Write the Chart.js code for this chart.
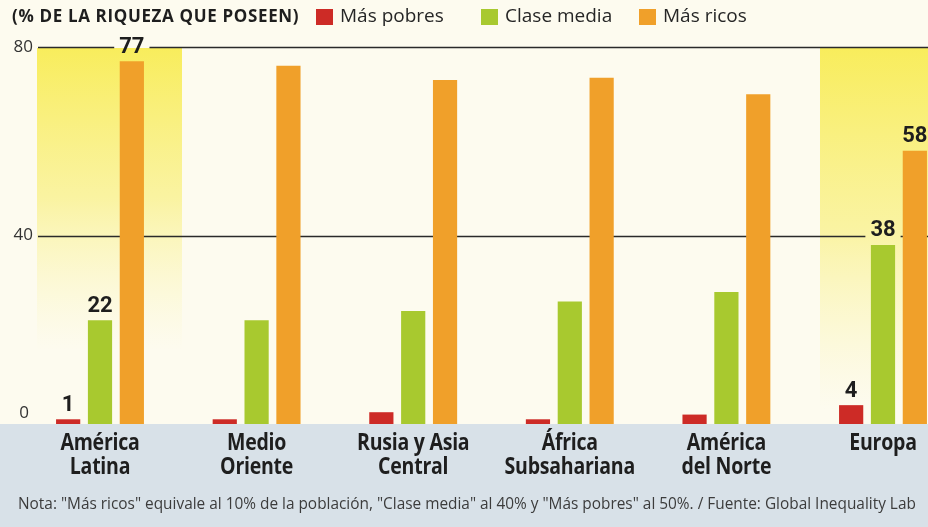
<!DOCTYPE html>
<html lang="es">
<head>
<meta charset="utf-8">
<title>Riqueza por región</title>
<script src="https://cdn.jsdelivr.net/npm/chart.js@4"></script>
<style>
  html, body { margin: 0; padding: 0; background: #fdfbef; overflow: hidden; }
  #wealthChart { display: block; }
</style>
</head>
<body>
<canvas id="wealthChart" width="928" height="527"></canvas>
<script>
// Share of wealth held by each group, by region
const regions = [
  ["América", "Latina"],
  ["Medio", "Oriente"],
  ["Rusia y Asia", "Central"],
  ["África", "Subsahariana"],
  ["América", "del Norte"],
  ["Europa"],
];
const seriesNames = ["Más pobres", "Clase media", "Más ricos"];
const masPobres = [1, 1, 2.5, 1, 2, 4];
const claseMedia = [22, 22, 24, 26, 28, 38];
const masRicos = [77, 76, 73, 73.5, 70, 58];
const yTicks = [0, 40, 80];
// regions whose bars carry value labels (and get the yellow highlight)
const highlighted = [0, 5];

const title = "(% DE LA RIQUEZA QUE POSEEN)";
const footnote =
  'Nota: "Más ricos" equivale al 10% de la población, "Clase media" al 40% y "Más pobres" al 50%. / Fuente: Global Inequality Lab';

const colors = ["#cd2b26", "#a8c92f", "#f0a02a"];
const ink = "#1e1e1e";
const bandBottom = 424; // where the blue strip starts

function valueLabels(chart) {
  const ctx = chart.ctx;
  const boxes = [];
  ctx.save();
  ctx.font = "bold 22px Roboto";
  chart.data.datasets.forEach((ds, di) => {
    const meta = chart.getDatasetMeta(di);
    highlighted.forEach((i) => {
      const bar = meta.data[i];
      const text = String(ds.data[i]);
      const w = ctx.measureText(text).width;
      const cy = bar.y - 15;
      boxes.push({ text, x: bar.x, y: cy, x0: bar.x - w / 2, x1: bar.x + w / 2, y0: cy - 10, y1: cy + 10 });
    });
  });
  ctx.restore();
  return boxes;
}

// draw text squeezed horizontally, the way the condensed headline face looks
function condensedText(ctx, text, x, y, squeeze) {
  ctx.save();
  ctx.translate(x, y);
  ctx.scale(squeeze, 1);
  ctx.fillText(text, 0, 0);
  ctx.restore();
}

const decorPlugin = {
  id: "decor",
  beforeDraw(chart) {
    const { ctx, width, height, scales } = chart;
    const x = scales.x;
    const y = scales.y;
    ctx.save();
    ctx.fillStyle = "#fdfbef";
    ctx.fillRect(0, 0, width, height);

    // yellow highlight behind the featured regions
    const top = y.getPixelForValue(80) + 1;
    highlighted.forEach((i, k) => {
      const cx = x.getPixelForValue(i);
      const fadeTo = k === 0 ? 350 : 410;
      const g = ctx.createLinearGradient(0, top, 0, fadeTo);
      g.addColorStop(0, "rgba(248, 236, 84, 0.95)");
      g.addColorStop(0.5, "rgba(248, 238, 110, 0.6)");
      g.addColorStop(1, "rgba(250, 244, 170, 0)");
      ctx.fillStyle = g;
      ctx.fillRect(cx - 63, top, 145, fadeTo - top);
    });

    // blue strip under the baseline
    ctx.fillStyle = "#d8e1e8";
    ctx.fillRect(0, bandBottom, width, height - bandBottom);
    ctx.restore();
  },
  beforeDatasetsDraw(chart) {
    const { ctx, width, scales } = chart;
    const left = scales.x.getPixelForValue(0) - 62;
    const boxes = valueLabels(chart);
    ctx.save();
    ctx.strokeStyle = "#2a2a2a";
    ctx.lineWidth = 1.5;
    yTicks.filter((t) => t > 0).forEach((t) => {
      const py = Math.round(scales.y.getPixelForValue(t)) + 0.5;
      const gaps = boxes
        .filter((b) => b.y0 <= py && b.y1 >= py)
        .map((b) => [b.x0 - 5, b.x1 + 5])
        .sort((a, b) => a[0] - b[0]);
      let start = left;
      ctx.beginPath();
      gaps.forEach(([g0, g1]) => {
        ctx.moveTo(start, py);
        ctx.lineTo(g0, py);
        start = g1;
      });
      ctx.moveTo(start, py);
      ctx.lineTo(width, py);
      ctx.stroke();
    });
    ctx.restore();
  },
  afterDatasetsDraw(chart) {
    const { ctx, scales } = chart;
    const x = scales.x;
    const y = scales.y;
    ctx.save();

    // value labels
    ctx.fillStyle = ink;
    ctx.font = "bold 22px Roboto";
    ctx.textAlign = "center";
    ctx.textBaseline = "middle";
    valueLabels(chart).forEach((b) => ctx.fillText(b.text, b.x, b.y + 1));

    // y tick labels
    ctx.font = "17px 'Open Sans'";
    ctx.fillStyle = "#333";
    ctx.textAlign = "right";
    yTicks.forEach((t) => {
      const py = y.getPixelForValue(t);
      ctx.fillText(String(t), t === 0 ? 29 : 33, t === 0 ? py - 11 : py);
    });

    // region names
    ctx.fillStyle = ink;
    ctx.font = "bold 23px 'Open Sans'";
    ctx.letterSpacing = "-0.3px";
    ctx.textAlign = "center";
    regions.forEach((lines, i) => {
      const cx = x.getPixelForValue(i);
      lines.forEach((line, j) => condensedText(ctx, line, cx, 443 + j * 24, 0.85));
    });

    // header: title and legend
    ctx.textAlign = "left";
    ctx.font = "bold 17px 'Open Sans'";
    ctx.letterSpacing = "0.65px";
    condensedText(ctx, title, 12, 17, 1);
    ctx.letterSpacing = "0px";
    const legendX = [316, 481, 639];
    ctx.font = "19px 'Open Sans'";
    seriesNames.forEach((name, i) => {
      ctx.fillStyle = colors[i];
      ctx.fillRect(legendX[i], 9, 17, 16);
      ctx.fillStyle = "#262626";
      ctx.fillText(name, legendX[i] + 24, 17);
    });

    // footnote
    ctx.font = "15.4px 'Open Sans'";
    ctx.letterSpacing = "0px";
    ctx.fillStyle = "#3c3c3c";
    ctx.fillText(footnote, 18, 505);
    ctx.restore();
  },
};

new Chart(document.getElementById("wealthChart"), {
  type: "bar",
  data: {
    labels: regions.map((r) => r.join(" ")),
    datasets: [masPobres, claseMedia, masRicos].map((values, i) => ({
      label: seriesNames[i],
      data: values,
      backgroundColor: colors[i],
      borderWidth: 0,
      categoryPercentage: 0.61,
      barPercentage: 0.76,
      clip: false,
    })),
  },
  options: {
    responsive: false,
    animation: false,
    layout: { padding: { top: 47, bottom: 527 - bandBottom, left: 100, right: 45 } },
    plugins: { legend: { display: false }, tooltip: { enabled: false } },
    scales: {
      x: { display: false, offset: false },
      y: { display: false, min: 0, max: 80 },
    },
  },
  plugins: [decorPlugin],
});
</script>
</body>
</html>
